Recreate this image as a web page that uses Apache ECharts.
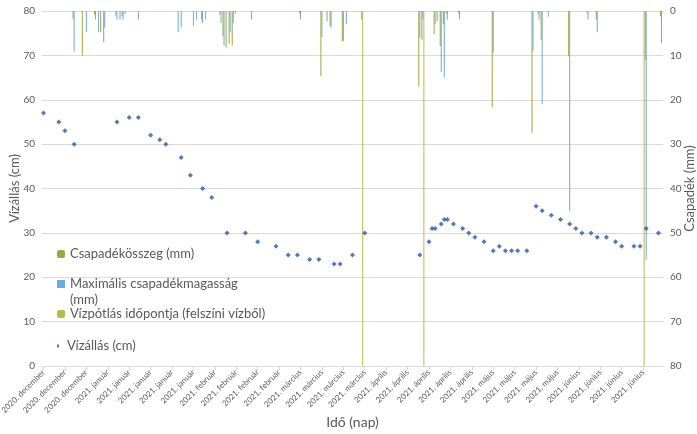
<!DOCTYPE html>
<html>
<head>
<meta charset="utf-8">
<script src="https://cdn.jsdelivr.net/npm/echarts@6/dist/echarts.min.js"></script>
<style>
  html, body { margin: 0; padding: 0; background: #fff; }
  #main { width: 697px; height: 434px; }
</style>
</head>
<body>
<div id="main"></div>
<script>
// x tengely: napok
const startDay = "2020-12-11";
const endDay = "2021-07-01";
const monthNames = ["január", "február", "március", "április", "május", "június",
  "július", "augusztus", "szeptember", "október", "november", "december"];

// Vízállás (cm)
const levelDates = [
  "2020-12-11", "2020-12-16", "2020-12-18", "2020-12-21",
  "2021-01-04", "2021-01-08", "2021-01-11", "2021-01-15", "2021-01-18", "2021-01-20", "2021-01-25", "2021-01-28",
  "2021-02-01", "2021-02-04", "2021-02-09", "2021-02-15", "2021-02-19", "2021-02-25",
  "2021-03-01", "2021-03-04", "2021-03-08", "2021-03-11", "2021-03-16", "2021-03-18", "2021-03-22", "2021-03-26",
  "2021-04-13", "2021-04-16", "2021-04-17", "2021-04-18", "2021-04-20", "2021-04-21", "2021-04-22", "2021-04-24", "2021-04-27", "2021-04-29",
  "2021-05-01", "2021-05-04", "2021-05-07", "2021-05-09", "2021-05-11", "2021-05-13", "2021-05-15", "2021-05-18", "2021-05-21", "2021-05-23", "2021-05-26", "2021-05-29",
  "2021-06-01", "2021-06-03", "2021-06-05", "2021-06-08", "2021-06-10", "2021-06-13", "2021-06-16", "2021-06-18", "2021-06-22", "2021-06-24", "2021-06-26", "2021-06-30"
];
const levelValues = [
  57, 55, 53, 50,
  55, 56, 56, 52, 51, 50, 47, 43,
  40, 38, 30, 30, 28, 27,
  25, 25, 24, 24, 23, 23, 25, 30,
  25, 28, 31, 31, 32, 33, 33, 32, 31, 30,
  29, 28, 26, 27, 26, 26, 26, 26, 36, 35, 34, 33,
  32, 31, 30, 30, 29, 29, 28, 27, 27, 27, 31, 30
];

// Csapadékösszeg (mm)
const sumDates = [
  "2020-12-21", "2020-12-24", "2020-12-28", "2020-12-30", "2020-12-31",
  "2021-01-04", "2021-01-06", "2021-01-07",
  "2021-02-01", "2021-02-07", "2021-02-08", "2021-02-09", "2021-02-10", "2021-02-11", "2021-02-12",
  "2021-03-05", "2021-03-12", "2021-03-14", "2021-03-15", "2021-03-19",
  "2021-04-13", "2021-04-14", "2021-04-18", "2021-04-19", "2021-04-20", "2021-04-21", "2021-04-22", "2021-04-26",
  "2021-05-07", "2021-05-20", "2021-05-22", "2021-05-23",
  "2021-06-01", "2021-06-07", "2021-06-10", "2021-06-26", "2021-07-01"
];
const sumValues = [
  1.8, 10, 0.8, 4.8, 7,
  1, 1.2, 0.7,
  1.9, 0.8, 5.7, 8.2, 7.4, 7.8, 0.6,
  0.5, 14.7, 2.3, 3.4, 6.8,
  17, 6.4, 5.2, 2.3, 7.9, 3, 0.6, 0.5,
  21.7, 27.5, 0.8, 6.6,
  10.2, 0.5, 1.9, 11.1, 1.2
];

// Maximális csapadékmagasság (mm)
const maxDates = [
  "2020-12-21", "2020-12-25", "2020-12-28", "2020-12-29", "2020-12-31",
  "2021-01-04", "2021-01-05", "2021-01-06", "2021-01-11", "2021-01-24", "2021-01-25", "2021-01-29", "2021-01-30",
  "2021-02-01", "2021-02-02", "2021-02-07", "2021-02-08", "2021-02-10", "2021-02-11", "2021-02-17",
  "2021-03-05", "2021-03-12", "2021-03-15", "2021-03-19", "2021-03-20", "2021-03-25",
  "2021-04-13", "2021-04-14", "2021-04-18", "2021-04-20", "2021-04-21", "2021-04-22", "2021-04-26",
  "2021-05-07", "2021-05-20", "2021-05-22", "2021-05-23", "2021-05-25",
  "2021-06-01", "2021-06-07", "2021-06-10", "2021-06-26", "2021-07-01"
];
const maxValues = [
  9.1, 4.8, 1.9, 4.8, 3.7,
  1.9, 1.9, 1.9, 1.9, 4.8, 3.7, 3.3, 1.9,
  2.7, 1.9, 2.7, 7.8, 4.8, 2.7, 1.9,
  1.9, 5.9, 3.8, 6.7, 3, 1.9,
  6, 1.9, 3, 13.8, 15, 1.9, 1.9,
  9.4, 9, 1.9, 21, 1.3,
  45, 1.9, 4.8, 56, 7.2
];

// Vízpótlás időpontja (felszíni vízből)
const refillDates = ["2021-03-25", "2021-04-14", "2021-06-25"];
const refillValues = [80, 80, 80];

const dayMs = 24 * 3600 * 1000;
function dayIndex(s) {
  return Math.round((Date.parse(s) - Date.parse(startDay)) / dayMs);
}
const categories = [];
for (let t = Date.parse(startDay); t <= Date.parse(endDay); t += dayMs) {
  categories.push(new Date(t).toISOString().slice(0, 10));
}
function fill(dates, values) {
  const arr = categories.map(() => null);
  dates.forEach((d, i) => { arr[dayIndex(d)] = values[i]; });
  return arr;
}

const gray = "#595959";
const font = "Lato, 'Open Sans', sans-serif";

const chart = echarts.init(document.getElementById("main"));
const legendBase = {
  orient: "vertical",
  left: 57,
  padding: 0,
  itemWidth: 8,
  itemHeight: 8,
  itemGap: 0,
  selectedMode: false,
  textStyle: { color: gray, fontSize: 13, fontFamily: font, lineHeight: 16 }
};
const option = {
  animation: false,
  textStyle: { fontFamily: font },
  grid: { left: 42, right: 34, top: 11, bottom: 68, containLabel: false, outerBoundsMode: "none" },
  legend: [
    Object.assign({}, legendBase, { top: 246, data: ["Csapadékösszeg (mm)"] }),
    Object.assign({}, legendBase, {
      top: 276, itemHeight: 24,
      // négyzet az első sor magasságában
      data: [{ name: "Maximális csapadékmagasság (mm)", icon: "path://M0,0h8v8h-8z M0,24h8" }],
      formatter: () => "Maximális csapadékmagasság\n(mm)"
    }),
    Object.assign({}, legendBase, { top: 306, data: ["Vízpótlás időpontja (felszíni vízből)"] }),
    Object.assign({}, legendBase, { top: 338, itemWidth: 8, itemHeight: 3, data: [{ name: "Vízállás (cm)", icon: "path://M3,0h2v3h-2z" }] })
  ],
  xAxis: {
    type: "category",
    data: categories,
    boundaryGap: true,
    name: "Idő (nap)",
    nameLocation: "middle",
    nameGap: 49,
    nameMoveOverlap: false,
    nameTextStyle: { color: gray, fontSize: 14, fontFamily: font },
    axisLine: { lineStyle: { color: "#D9D9D9" } },
    axisTick: { show: true, interval: 6, alignWithLabel: true, length: 4, lineStyle: { color: "#D9D9D9" } },
    axisLabel: {
      interval: 6,
      rotate: 45,
      fontSize: 8,
      color: gray,
      margin: 5,
      formatter: (v) => v.slice(0, 4) + ". " + monthNames[parseInt(v.slice(5, 7), 10) - 1]
    },
    splitLine: { show: false }
  },
  yAxis: [
    {
      type: "value",
      min: 0, max: 80, interval: 10,
      name: "Vízállás (cm)",
      nameLocation: "middle",
      nameRotate: 90,
      nameGap: 21,
      nameMoveOverlap: false,
      nameTextStyle: { color: gray, fontSize: 13, fontFamily: font },
      axisLine: { show: false },
      axisTick: { show: false },
      axisLabel: { color: gray, fontSize: 10, margin: 7 },
      splitLine: { lineStyle: { color: "#D9D9D9" } }
    },
    {
      type: "value",
      inverse: true,
      min: 0, max: 80, interval: 10,
      name: "Csapadék (mm)",
      nameLocation: "middle",
      nameRotate: 90,
      nameGap: 20,
      nameMoveOverlap: false,
      nameTextStyle: { color: gray, fontSize: 13, fontFamily: font },
      axisLine: { show: false },
      axisTick: { show: false },
      axisLabel: { color: gray, fontSize: 10, margin: 7 },
      splitLine: { show: false }
    }
  ],
  series: [
    {
      name: "Csapadékösszeg (mm)",
      type: "bar",
      yAxisIndex: 1,
      barWidth: 1,
      barGap: "0%",
      itemStyle: { color: "#A2A43C" },
      data: fill(sumDates, sumValues)
    },
    {
      name: "Maximális csapadékmagasság (mm)",
      type: "bar",
      yAxisIndex: 1,
      barWidth: 1,
      barGap: "0%",
      itemStyle: { color: "#6FA8DC" },
      data: fill(maxDates, maxValues)
    },
    {
      name: "Vízpótlás időpontja (felszíni vízből)",
      type: "bar",
      yAxisIndex: 1,
      barWidth: 1,
      barGap: "0%",
      itemStyle: { color: "#B8BC4C" },
      data: fill(refillDates, refillValues)
    },
    {
      name: "Vízállás (cm)",
      type: "scatter",
      yAxisIndex: 0,
      symbol: "diamond",
      symbolSize: 5,
      itemStyle: { color: "#2B58A6" },
      z: 5,
      data: fill(levelDates, levelValues)
    }
  ]
};
chart.setOption(option);
window.addEventListener("resize", chart.resize);
</script>
</body>
</html>
